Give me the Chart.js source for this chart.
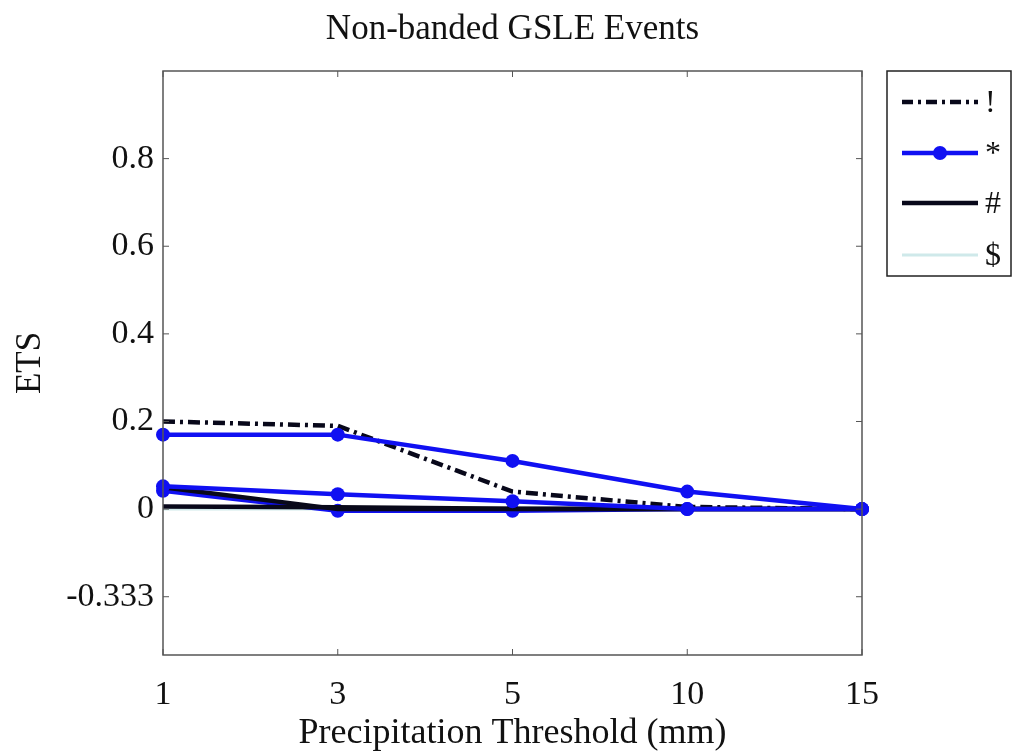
<!DOCTYPE html>
<html>
<head>
<meta charset="utf-8">
<title>Non-banded GSLE Events</title>
<script src="https://cdn.jsdelivr.net/npm/chart.js@4.4.1/dist/chart.umd.min.js"></script>
<style>
  html, body { margin: 0; padding: 0; background: #fff; }
  #wrap { width: 1013px; height: 753px; }
</style>
</head>
<body>
<div id="wrap"><canvas id="ets"></canvas></div>
<script>
// thresholds (mm) along the x axis
const thresholds = ['1', '3', '5', '10', '15'];

// ETS per threshold
const etsDashDot  = [0.200, 0.190, 0.040, 0.005, 0.000];
const etsBlueMain = [0.170, 0.170, 0.110, 0.040, 0.000];
const etsBlueLow  = [0.052, 0.034, 0.018, 0.000, 0.000];
const etsBlueZero = [0.042, -0.004, -0.004, 0.000, 0.000];
const etsBlackDrop = [0.050, 0.000, 0.000, 0.000, 0.000];
const etsBlackFlat = [0.006, 0.004, 0.001, 0.000, 0.000];
const etsCyan     = [0.000, 0.000, 0.000, 0.000, 0.000];

// y ticks: the lowest one is printed as the ETS lower bound
const yTickValues = [-0.2, 0, 0.2, 0.4, 0.6, 0.8];
const yTickLabels = ['-0.333', '0', '0.2', '0.4', '0.6', '0.8'];

const legendNames = ['!', '*', '#', '$'];
const chartTitle = 'Non-banded GSLE Events';

const blue = '#1010f2';
const black = '#08081a';
const cyan = '#cfe9ea';
const serif = "'Liberation Serif', 'DejaVu Serif', serif";

Chart.defaults.font.family = serif;
Chart.defaults.color = '#111';

function line(data, color, extra) {
  return Object.assign({
    data: data,
    borderColor: color,
    backgroundColor: color,
    borderWidth: 4.5,
    pointRadius: 0,
    tension: 0,
    fill: false
  }, extra || {});
}

const marker = { pointRadius: 7, pointBorderWidth: 0 };

// frame round the plot with small inward ticks, title centred over it
const frame = {
  id: 'frame',
  afterDatasetsDraw(chart) {
    const { ctx, chartArea: a, scales } = chart;
    ctx.save();
    ctx.strokeStyle = '#555';
    ctx.lineWidth = 1.5;
    ctx.strokeRect(a.left, a.top, a.right - a.left, a.bottom - a.top);
    ctx.lineWidth = 1;
    ctx.beginPath();
    yTickValues.forEach(v => {
      const y = scales.y.getPixelForValue(v);
      ctx.moveTo(a.left, y); ctx.lineTo(a.left + 6, y);
      ctx.moveTo(a.right, y); ctx.lineTo(a.right - 6, y);
    });
    thresholds.forEach((t, i) => {
      const x = scales.x.getPixelForValue(i);
      ctx.moveTo(x, a.bottom); ctx.lineTo(x, a.bottom - 6);
      ctx.moveTo(x, a.top); ctx.lineTo(x, a.top + 6);
    });
    ctx.stroke();

    ctx.fillStyle = '#111';
    ctx.font = '35px ' + serif;
    ctx.textAlign = 'center';
    ctx.textBaseline = 'middle';
    ctx.fillText(chartTitle, (a.left + a.right) / 2, 30);
    ctx.restore();
  }
};

// boxed legend outside the plot on the right
const sideLegend = {
  id: 'sideLegend',
  afterDraw(chart) {
    const ctx = chart.ctx;
    const left = 887, top = 71, right = 1011, bottom = 276;
    ctx.save();
    ctx.fillStyle = '#fff';
    ctx.fillRect(left, top, right - left, bottom - top);
    ctx.strokeStyle = '#222';
    ctx.lineWidth = 1.5;
    ctx.strokeRect(left, top, right - left, bottom - top);

    const rows = [102, 153, 203, 255];
    const x0 = 902, x1 = 978;
    ctx.lineWidth = 4.5;

    // dash-dot
    ctx.strokeStyle = black;
    ctx.setLineDash([11, 5, 3, 5]);
    ctx.beginPath(); ctx.moveTo(x0, rows[0]); ctx.lineTo(x1, rows[0]); ctx.stroke();
    ctx.setLineDash([]);

    // blue with marker
    ctx.strokeStyle = blue;
    ctx.beginPath(); ctx.moveTo(x0, rows[1]); ctx.lineTo(x1, rows[1]); ctx.stroke();
    ctx.fillStyle = blue;
    ctx.beginPath(); ctx.arc((x0 + x1) / 2, rows[1], 7, 0, Math.PI * 2); ctx.fill();

    // black solid
    ctx.strokeStyle = black;
    ctx.beginPath(); ctx.moveTo(x0, rows[2]); ctx.lineTo(x1, rows[2]); ctx.stroke();

    // light cyan
    ctx.strokeStyle = cyan;
    ctx.lineWidth = 3;
    ctx.beginPath(); ctx.moveTo(x0, rows[3]); ctx.lineTo(x1, rows[3]); ctx.stroke();

    ctx.fillStyle = '#111';
    ctx.font = '32px ' + serif;
    ctx.textBaseline = 'middle';
    legendNames.forEach((name, i) => ctx.fillText(name, 985, rows[i] + 2));
    ctx.restore();
  }
};

new Chart(document.getElementById('ets'), {
  type: 'line',
  data: {
    labels: thresholds,
    datasets: [
      line(etsBlueMain, blue, marker),
      line(etsBlueLow, blue, marker),
      line(etsDashDot, black, { borderDash: [12, 5, 3, 5] }),
      line(etsBlackDrop, black),
      line(etsBlackFlat, black),
      line(etsBlueZero, blue, marker),
      line(etsCyan, cyan, { borderWidth: 3 })
    ]
  },
  options: {
    responsive: true,
    maintainAspectRatio: false,
    animation: false,
    layout: { padding: { left: 0, right: 151, top: 71, bottom: 0 } },
    plugins: {
      legend: { display: false },
      tooltip: { enabled: false },
      title: { display: false }
    },
    scales: {
      x: {
        offset: false,
        grid: { display: false, drawTicks: false },
        border: { display: false },
        ticks: { font: { size: 34 }, padding: 20, color: '#111', maxRotation: 0 },
        title: {
          display: true,
          text: 'Precipitation Threshold (mm)',
          font: { size: 36 },
          color: '#111',
          padding: { top: 0, bottom: -2 }
        },
        afterFit(scale) { scale.height = 98; }
      },
      y: {
        min: -0.333,
        max: 1,
        grid: { display: false, drawTicks: false },
        border: { display: false },
        afterBuildTicks(scale) {
          scale.ticks = yTickValues.map(v => ({ value: v }));
        },
        ticks: {
          font: { size: 34 },
          padding: 9,
          color: '#111',
          callback: (v) => yTickLabels[yTickValues.indexOf(v)]
        },
        title: {
          display: true,
          text: 'ETS',
          font: { size: 35 },
          color: '#111',
          padding: { top: 10, bottom: 0 }
        },
        afterFit(scale) { scale.width = 163; }
      }
    }
  },
  plugins: [frame, sideLegend]
});
</script>
</body>
</html>
